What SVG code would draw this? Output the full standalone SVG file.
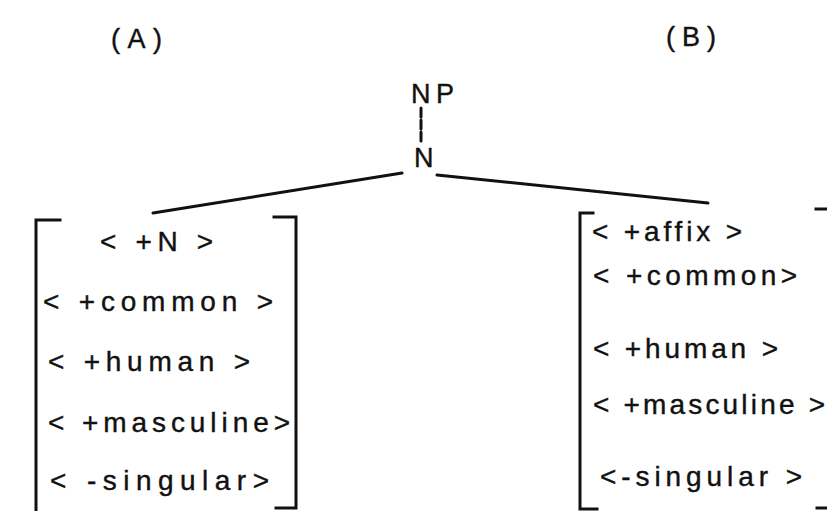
<svg xmlns="http://www.w3.org/2000/svg" width="827" height="511" viewBox="0 0 827 511">
  <style>
    .t { font-family: "Liberation Sans", Arial, sans-serif; font-size: 28px; fill: #111; stroke: #111; stroke-width: 0.4; }
    .lab { font-family: "Liberation Sans", Arial, sans-serif; font-size: 27px; fill: #111; stroke: #111; stroke-width: 0.4; }
    .br { fill: none; stroke: #111; stroke-width: 3; stroke-linecap: square; }
    .edge { fill: none; stroke: #111; stroke-width: 3; stroke-linecap: round; }
  </style>
  <rect width="827" height="511" fill="#fff"/>

  <!-- column headings -->
  <g id="label-a"><text class="lab" x="111" y="48" textLength="51" lengthAdjust="spacing">(A)</text></g>
  <g id="label-b"><text class="lab" x="666" y="46" textLength="50" lengthAdjust="spacing">(B)</text></g>

  <!-- tree nodes -->
  <g id="node-np"><text class="lab" x="411" y="103" textLength="43" lengthAdjust="spacing">NP</text></g>
  <g id="node-n"><text class="lab" x="414" y="167">N</text></g>

  <!-- connectors -->
  <g id="connectors">
    <line class="edge" x1="421" y1="108" x2="421" y2="142" stroke-dasharray="9 3" stroke-width="2.5"/>
    <line class="edge" x1="402" y1="173" x2="153" y2="213"/>
    <line class="edge" x1="437" y1="175" x2="708" y2="203"/>
  </g>

  <!-- feature matrix A -->
  <g id="matrix-a">
    <path class="br" d="M60 220 H36 V512"/>
    <path class="br" d="M274 217 H296 V508 H276"/>
    <text class="t" x="100" y="251" textLength="113" lengthAdjust="spacing">&lt; +N &gt;</text>
    <text class="t" x="43" y="311" textLength="230" lengthAdjust="spacing">&lt; +common &gt;</text>
    <text class="t" x="48" y="371" textLength="202" lengthAdjust="spacing">&lt; +human &gt;</text>
    <text class="t" x="48" y="432" textLength="242" lengthAdjust="spacing">&lt; +masculine&gt;</text>
    <text class="t" x="50" y="490" textLength="219" lengthAdjust="spacing">&lt; -singular&gt;</text>
  </g>

  <!-- feature matrix B -->
  <g id="matrix-b">
    <path class="br" d="M593 213 H580 V509 H597"/>
    <path class="br" d="M816 209 H830"/>
    <path class="br" d="M817 508 H830"/>
    <text class="t" x="592" y="241" textLength="150" lengthAdjust="spacing">&lt; +affix &gt;</text>
    <text class="t" x="593" y="285" textLength="204" lengthAdjust="spacing">&lt; +common&gt;</text>
    <text class="t" x="593" y="358" textLength="185" lengthAdjust="spacing">&lt; +human &gt;</text>
    <text class="t" x="593" y="414" textLength="232" lengthAdjust="spacing">&lt; +masculine &gt;</text>
    <text class="t" x="600" y="486" textLength="202" lengthAdjust="spacing">&lt;-singular &gt;</text>
  </g>
</svg>
